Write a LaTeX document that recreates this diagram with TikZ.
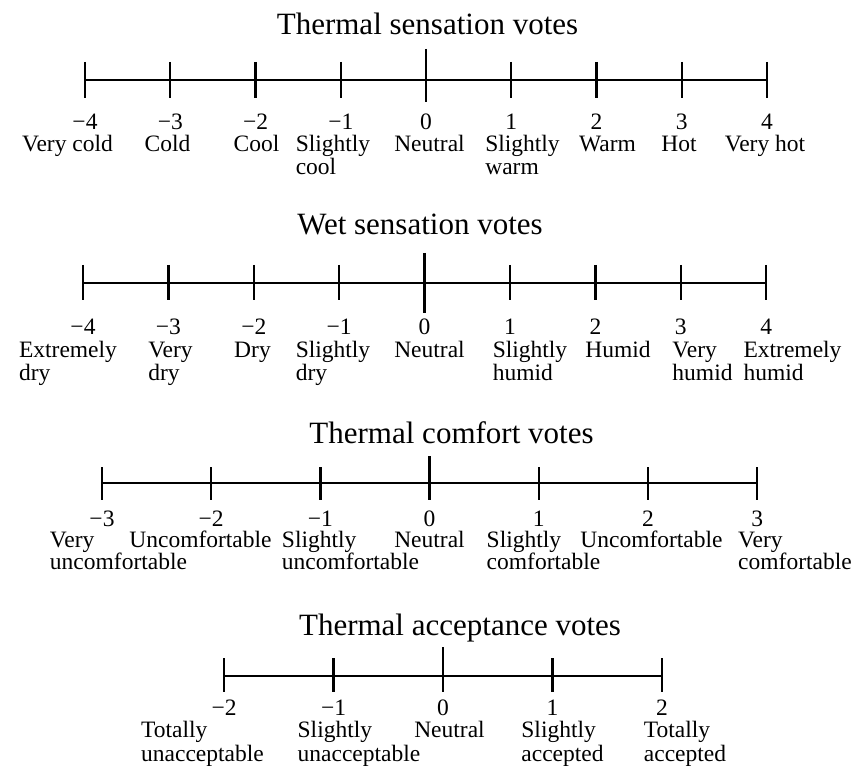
\documentclass[tikz,border=0pt]{standalone}
\usepackage{fontspec}
\setmainfont{Liberation Serif}
\newcommand\drawscale[9]{% #1 name, #2 x0, #3 dx, #4 last index, #5 axis y, #6 tick top, #7 tick bottom, #8 centre top, #9 centre bottom
  \pgfmathtruncatemacro\midix{#4/2}
  \foreach \i in {0,...,#4}{
    \pgfmathsetmacro\xx{#2+#3*\i}
    \ifnum\i=\midix
      \coordinate (#1t\i) at (\xx,#8);
      \coordinate (#1b\i) at (\xx,#9);
    \else
      \coordinate (#1t\i) at (\xx,#6);
      \coordinate (#1b\i) at (\xx,#7);
    \fi
    \coordinate (#1a\i) at (\xx,#5);
    \draw[tickline] (#1t\i) -- (#1b\i);
  }
  \draw[axisline] (#1a0) -- (#1a#4);
}
\begin{document}
\begin{tikzpicture}[x=1pt,y=-1pt,
  axisline/.style={line width=2.4pt},
  tickline/.style={line width=2.4pt},
  lab/.style={inner sep=0pt, anchor=base, align=left, font=\fontsize{23.5}{#1}\selectfont},
  lab/.default=23,
  labtwo/.style={lab=#1, yshift=-#1pt},
  labtwo/.default=23,
  num/.style={inner sep=0pt, anchor=base, font=\fontsize{23.5}{23}\selectfont},
  ttl/.style={inner sep=0pt, anchor=base, font=\fontsize{31}{31}\selectfont}]
\useasboundingbox (0,0) rectangle (857,767);
\fill[white] (0,0) rectangle (857,767);

% ---------- Thermal sensation votes ----------
\node[ttl] (t1) at (427.5,35) {Thermal sensation votes};
\drawscale{s1}{85}{85.25}{8}{80}{62}{98}{49}{102}
\foreach \i/\t in {0/−4,1/−3,2/−2,3/−1,4/0,5/1,6/2,7/3,8/4}
  \node[num] (s1n\i) at (s1a\i |- 0,130) {\t};
\node[lab] (s1l0) at (67.5,152) {Very cold};
\node[lab] (s1l1) at (167.5,152) {Cold};
\node[lab] (s1l2) at (256.5,152) {Cool};
\node[labtwo] (s1l3) at (333,152) {Slightly\\cool};
\node[lab] (s1l4) at (429.5,152) {Neutral};
\node[labtwo] (s1l5) at (522.5,152) {Slightly\\warm};
\node[lab] (s1l6) at (607.5,152) {Warm};
\node[lab] (s1l7) at (679,152) {Hot};
\node[lab] (s1l8) at (765,152) {Very hot};

% ---------- Wet sensation votes ----------
\node[ttl] (t2) at (420,235) {Wet sensation votes};
\drawscale{s2}{83}{85.4}{8}{283}{265}{300}{253}{313}
\foreach \i/\t in {0/−4,1/−3,2/−2,3/−1,4/0,5/1,6/2,7/3,8/4}
  \node[num] (s2n\i) at (s2a\i |- 0,335) {\t};
\node[labtwo] (s2l0) at (68,358) {Extremely\\dry};
\node[labtwo] (s2l1) at (170.5,358) {Very\\dry};
\node[lab] (s2l2) at (252.5,358) {Dry};
\node[labtwo] (s2l3) at (333,358) {Slightly\\dry};
\node[lab] (s2l4) at (429.5,358) {Neutral};
\node[labtwo] (s2l5) at (530,358) {Slightly\\humid};
\node[lab] (s2l6) at (618,358) {Humid};
\node[labtwo] (s2l7) at (702.5,358) {Very\\humid};
\node[labtwo] (s2l8) at (792.5,358) {Extremely\\humid};

% ---------- Thermal comfort votes ----------
\node[ttl] (t3) at (451.5,443) {Thermal comfort votes};
\drawscale{s3}{102}{109.2}{6}{483}{467}{500}{456}{500}
\foreach \i/\t in {0/−3,1/−2,2/−1,3/0,4/1,5/2,6/3}
  \node[num] (s3n\i) at (s3a\i |- 0,526) {\t};
\node[labtwo=22] (s3l0) at (118.5,547) {Very\\uncomfortable};
\node[lab=22] (s3l1) at (200.5,547) {Uncomfortable};
\node[labtwo=22] (s3l2) at (350.5,547) {Slightly\\uncomfortable};
\node[lab=22] (s3l3) at (429.5,547) {Neutral};
\node[labtwo=22] (s3l4) at (543.5,547) {Slightly\\comfortable};
\node[lab=22] (s3l5) at (651.5,547) {Uncomfortable};
\node[labtwo=22] (s3l6) at (795,547) {Very\\comfortable};

% ---------- Thermal acceptance votes ----------
\node[ttl] (t4) at (460,635) {Thermal acceptance votes};
\drawscale{s4}{224}{109.5}{4}{676}{658}{692}{647}{692}
\foreach \i/\t in {0/−2,1/−1,2/0,3/1,4/2}
  \node[num] (s4n\i) at (s4a\i |- 0,715) {\t};
\node[labtwo=24.5] (s4l0) at (202.5,737) {Totally\\unacceptable};
\node[labtwo=24.5] (s4l1) at (359,737) {Slightly\\unacceptable};
\node[lab=24.5] (s4l2) at (449.5,737) {Neutral};
\node[labtwo=24.5] (s4l3) at (562.5,737) {Slightly\\accepted};
\node[labtwo=24.5] (s4l4) at (685,737) {Totally\\accepted};
\end{tikzpicture}
\end{document}
